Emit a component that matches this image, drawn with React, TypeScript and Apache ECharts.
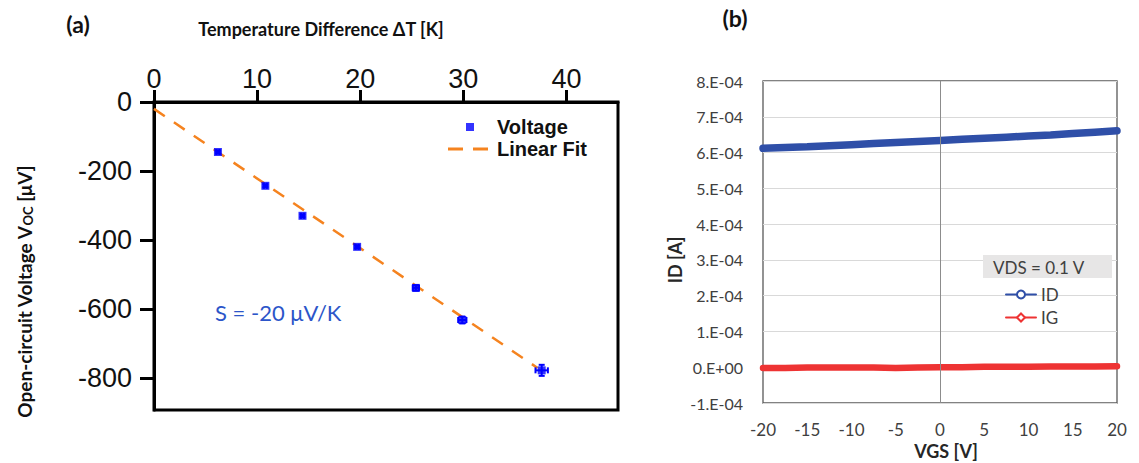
import React, { useEffect, useRef } from 'react';
import * as echarts from 'echarts';

// ---- Panel (a): Open-circuit voltage vs temperature difference ----
const deltaT = [6.2, 10.8, 14.4, 19.7, 25.4, 29.9, 37.6];
const voc = [-145, -243, -330, -420, -539, -632, -778];
const deltaTErr = [0.15, 0.15, 0.15, 0.15, 0.3, 0.4, 0.6];
const vocErr = [4, 4, 4, 4, 8, 10, 16];
const fitT = [0, 37.2];
const fitV = [-20, -771];
const topTicks = [0, 10, 20, 30, 40];
const leftTicks = [0, -200, -400, -600, -800];

// ---- Panel (b): ID / IG vs VGS ----
const vgs = [-20, -17.5, -15, -12.5, -10, -7.5, -5, -2.5, 0, 2.5, 5, 7.5, 10, 12.5, 15, 17.5, 20];
const idVals = [6.12e-4, 6.14e-4, 6.16e-4, 6.19e-4, 6.22e-4, 6.25e-4, 6.28e-4, 6.31e-4, 6.34e-4, 6.37e-4, 6.4e-4, 6.43e-4, 6.46e-4, 6.49e-4, 6.53e-4, 6.57e-4, 6.61e-4];
const igVals = [-2e-6, -2e-6, -1e-6, -1e-6, -1e-6, -1e-6, -2e-6, -1e-6, 0, 0, 1e-6, 1e-6, 1e-6, 2e-6, 2e-6, 2e-6, 3e-6];

const fmtSci = (v: number) => {
  const m = Math.round(v * 1e4);
  return m === 0 ? '0.E+00' : `${m}.E-04`;
};

export default function App() {
  const ref = useRef<HTMLDivElement>(null);
  useEffect(() => {
    if (!ref.current) return;
    const chart = echarts.init(ref.current, null, { renderer: 'svg' });
    const errData = deltaT.map((t, i) => [t, voc[i], deltaTErr[i], vocErr[i]]);
    const option: any = {
      animation: false,
      backgroundColor: '#ffffff',
      grid: [
        { left: 154, top: 102, width: 464, height: 308, show: true, borderColor: '#000', borderWidth: 3, containLabel: false },
        { left: 763, top: 81, width: 354, height: 322, show: true, borderColor: '#595959', borderWidth: 1.3, containLabel: false },
      ],
      xAxis: [
        {
          type: 'value', gridIndex: 0, position: 'top', min: 0, max: 45,
          axisLine: { show: true, lineStyle: { color: '#000', width: 3 } },
          axisTick: { show: true, inside: false, length: 12, lineStyle: { color: '#000', width: 3 }, customValues: topTicks },
          axisLabel: { customValues: topTicks, fontSize: 27, fontFamily: 'Liberation Sans', color: '#111', margin: 10 },
          splitLine: { show: false },
        },
        {
          type: 'value', gridIndex: 1, position: 'bottom', min: -20, max: 20, interval: 5,
          axisLine: { show: false },
          axisTick: { show: true, length: 5, customValues: [0], lineStyle: { color: '#8c8c8c', width: 1 } },
          axisLabel: { fontSize: 17, fontFamily: 'Lato', color: '#404040', margin: 18 },
          splitLine: { show: true, lineStyle: { color: '#d9d9d9', width: 1 } },
        },
      ],
      yAxis: [
        {
          type: 'value', gridIndex: 0, min: -893, max: 0,
          axisLine: { show: true, lineStyle: { color: '#000', width: 3 } },
          axisTick: { show: true, inside: false, length: 14, lineStyle: { color: '#000', width: 3 }, customValues: leftTicks },
          axisLabel: { customValues: leftTicks, fontSize: 27, fontFamily: 'Liberation Sans', color: '#111', margin: 22 },
          splitLine: { show: false },
        },
        {
          type: 'value', gridIndex: 1, min: -1e-4, max: 8e-4, interval: 1e-4,
          axisLine: { show: false },
          axisTick: { show: false },
          axisLabel: { fontSize: 16, fontFamily: 'Lato', color: '#404040', margin: 20, formatter: fmtSci },
          splitLine: { show: true, lineStyle: { color: '#d9d9d9', width: 1 } },
        },
      ],
      legend: [
        {
          data: ['Voltage'], left: 466, top: 117, orient: 'vertical', itemWidth: 8, itemHeight: 8, padding: 0,
          textStyle: { fontSize: 20, fontWeight: 'bold', fontFamily: 'Liberation Sans', color: '#111', padding: [0, 0, 0, 18] },
        },
        {
          data: [{ name: 'Linear Fit', icon: 'path://M0,0h15v3h-15z M25,0h15v3h-15z' }], left: 448, top: 139, orient: 'vertical', itemWidth: 40, itemHeight: 10, padding: 0,
          textStyle: { fontSize: 20, fontWeight: 'bold', fontFamily: 'Liberation Sans', color: '#111', padding: [0, 0, 0, 4] },
        },
        {
          data: ['ID', 'IG'], left: 1005, top: 286, orient: 'vertical', itemWidth: 30, itemHeight: 10, itemGap: 6, padding: 0,
          textStyle: { fontSize: 17, fontFamily: 'Lato', color: '#404040', lineHeight: 17 },
        },
      ],
      series: [
        {
          name: 'Linear Fit', type: 'line', xAxisIndex: 0, yAxisIndex: 0,
          data: fitT.map((t, i) => [t, fitV[i]]), showSymbol: false, symbol: 'none',
          itemStyle: { color: '#f5831f' },
          lineStyle: { color: '#f5831f', width: 2.5, type: [13, 11] }, z: 2,
        },
        {
          name: 'Voltage', type: 'scatter', xAxisIndex: 0, yAxisIndex: 0,
          data: deltaT.map((t, i) => [t, voc[i]]), symbol: 'rect', symbolSize: 8,
          itemStyle: { color: '#0000ff' }, z: 4,
        },
        {
          name: 'err', type: 'custom', xAxisIndex: 0, yAxisIndex: 0, data: errData, z: 3,
          encode: { x: 0, y: 1 },
          renderItem: (params: any, api: any) => {
            const x = api.value(0), y = api.value(1), ex = api.value(2), ey = api.value(3);
            const l = api.coord([x - ex, y]);
            const r = api.coord([x + ex, y]);
            const t = api.coord([x, y + ey]);
            const b = api.coord([x, y - ey]);
            const cap = 3;
            const style = { stroke: '#0000ff', lineWidth: 2 };
            return {
              type: 'group',
              children: [
                { type: 'line', shape: { x1: l[0], y1: l[1], x2: r[0], y2: r[1] }, style },
                { type: 'line', shape: { x1: t[0], y1: t[1], x2: b[0], y2: b[1] }, style },
                { type: 'line', shape: { x1: l[0], y1: l[1] - cap, x2: l[0], y2: l[1] + cap }, style },
                { type: 'line', shape: { x1: r[0], y1: r[1] - cap, x2: r[0], y2: r[1] + cap }, style },
                { type: 'line', shape: { x1: t[0] - cap, y1: t[1], x2: t[0] + cap, y2: t[1] }, style },
                { type: 'line', shape: { x1: b[0] - cap, y1: b[1], x2: b[0] + cap, y2: b[1] }, style },
              ],
            };
          },
        },
        {
          name: 'ID', type: 'line', xAxisIndex: 1, yAxisIndex: 1,
          data: vgs.map((v, i) => [v, idVals[i]]), showSymbol: false, symbol: 'emptyCircle', symbolSize: 7,
          itemStyle: { color: '#2f4fa8' },
          lineStyle: { color: '#2f4fa8', width: 7.5, cap: 'round' }, z: 3,
          markLine: {
            silent: true, symbol: 'none', label: { show: false },
            lineStyle: { color: '#8c8c8c', width: 1, type: 'solid' },
            data: [{ xAxis: 0 }],
          },
        },
        {
          name: 'IG', type: 'line', xAxisIndex: 1, yAxisIndex: 1,
          data: vgs.map((v, i) => [v, igVals[i]]), showSymbol: false, symbol: 'emptyDiamond', symbolSize: 6,
          itemStyle: { color: '#ee3333' },
          lineStyle: { color: '#ee3333', width: 6.5, cap: 'round' }, z: 3,
        },
      ],
      graphic: [
        { type: 'text', x: 78, y: 24, style: { text: '(a)', font: 'bold 23px Lato', fill: '#111', align: 'center', verticalAlign: 'middle' } },
        { type: 'text', x: 735, y: 18, style: { text: '(b)', font: 'bold 23px Lato', fill: '#111', align: 'center', verticalAlign: 'middle' } },
        { type: 'text', x: 321, y: 29, style: { text: 'Temperature Difference ΔT [K]', font: 'bold 18px Lato', fill: '#111', align: 'center', verticalAlign: 'middle' } },
        {
          type: 'text', x: 24, y: 292, rotation: Math.PI / 2,
          style: {
            text: '{a|Open-circuit Voltage V}{s|OC}{a| [μV]}', align: 'center', verticalAlign: 'middle', fill: '#111',
            rich: {
              a: { font: 'bold 19px Lato', fill: '#111' },
              s: { font: 'bold 13px Lato', fill: '#111', padding: [8, 0, 0, 0] },
            },
          },
        },
        { type: 'text', x: 215, y: 312, style: { text: 'S = -20 μV/K', font: '22px Lato', fill: '#2c55c9', align: 'left', verticalAlign: 'middle' } },
        { type: 'text', x: 675, y: 260, rotation: Math.PI / 2, style: { text: 'ID [A]', font: 'bold 18px Lato', fill: '#262626', align: 'center', verticalAlign: 'middle' } },
        { type: 'text', x: 946, y: 451, style: { text: 'VGS [V]', font: 'bold 18px Lato', fill: '#262626', align: 'center', verticalAlign: 'middle' } },
        { type: 'rect', shape: { x: 983, y: 255, width: 129, height: 23 }, style: { fill: '#e7e6e6' }, z: 10 },
        { type: 'text', x: 993, y: 267, z: 11, style: { text: 'VDS = 0.1 V', font: '17px Lato', fill: '#404040', align: 'left', verticalAlign: 'middle' } },
      ],
    };
    chart.setOption(option);
    return () => chart.dispose();
  }, []);
  return <div ref={ref} style={{ position: 'fixed', left: 0, top: 0, width: 1139, height: 463, background: '#fff' }} />;
}
